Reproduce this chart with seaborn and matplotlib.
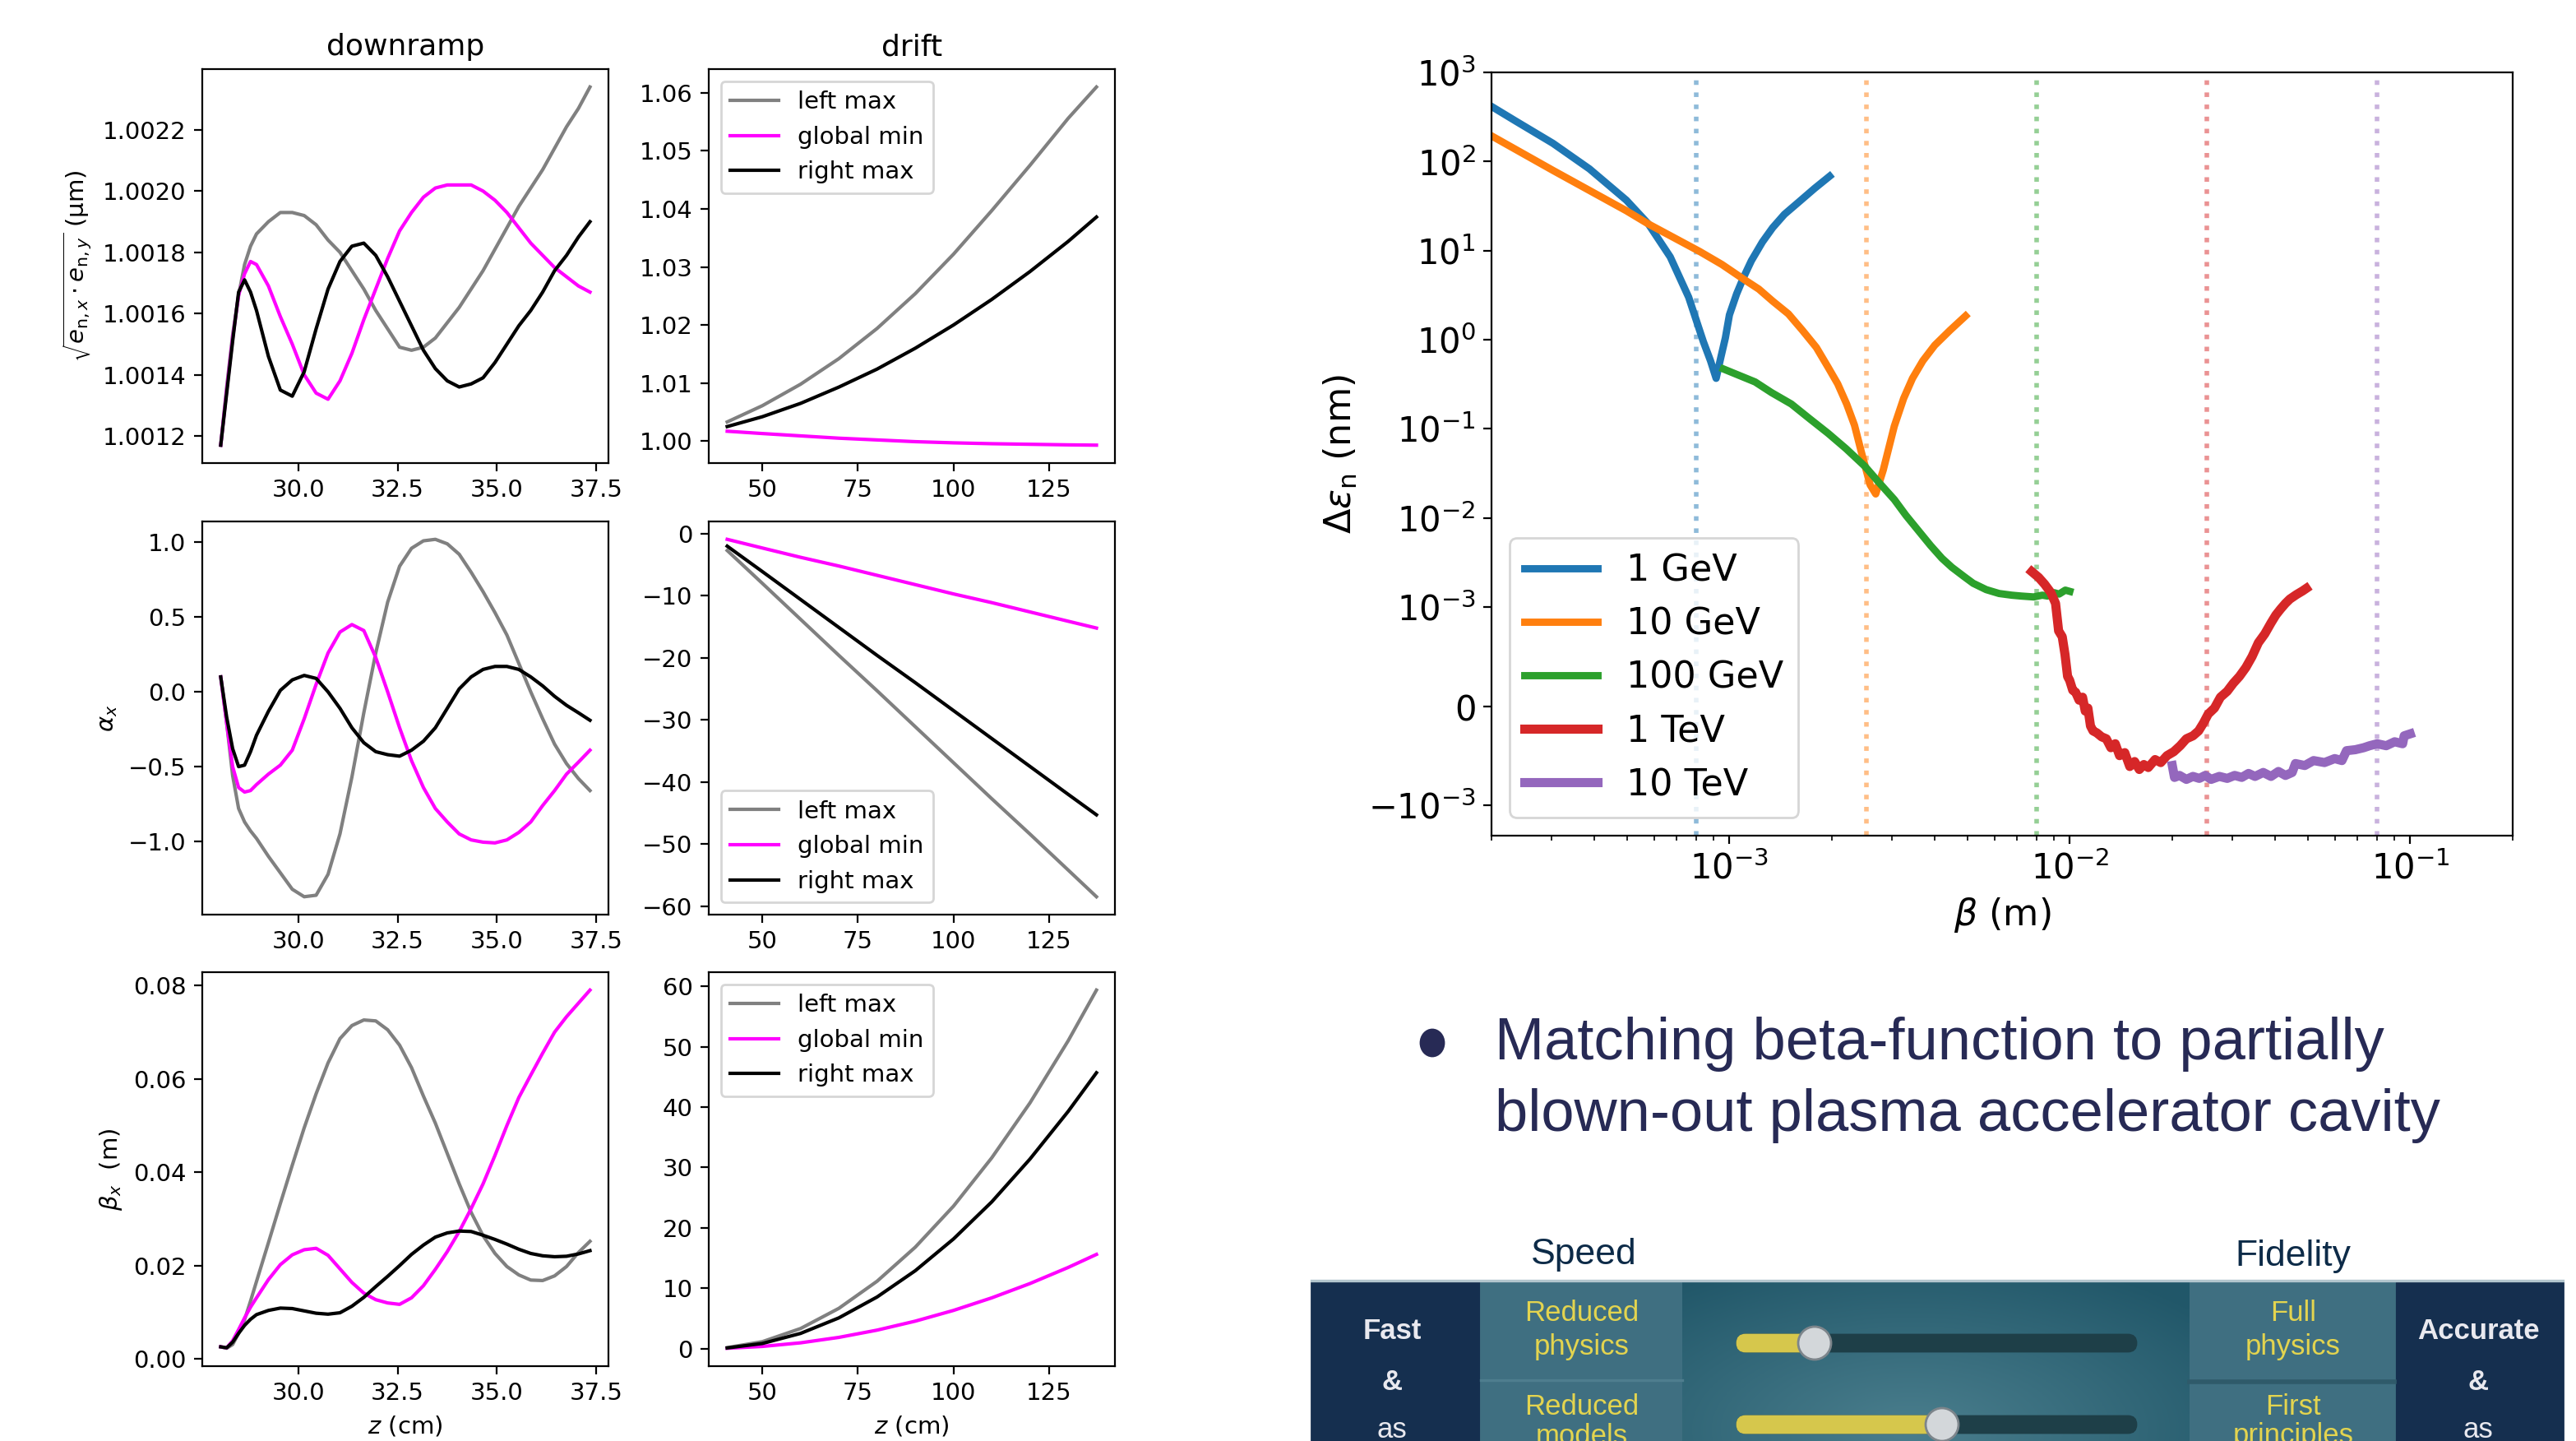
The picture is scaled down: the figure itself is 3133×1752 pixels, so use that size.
import numpy as np
import matplotlib
matplotlib.use("Agg")
import matplotlib.pyplot as plt
import matplotlib.patches as mpatches
import seaborn as sns

# ---------------- downramp (z in cm) ----------------
z_down = [28.05, 28.2, 28.35, 28.5, 28.65, 28.8, 28.95, 29.25, 29.55, 29.85, 30.15, 30.45,
          30.75, 31.05, 31.35, 31.65, 31.95, 32.25, 32.55, 32.85, 33.15, 33.45, 33.75, 34.05,
          34.35, 34.65, 34.95, 35.25, 35.55, 35.85, 36.15, 36.45, 36.75, 37.05, 37.34]

em_left = [1.00117, 1.00136, 1.00153, 1.00166, 1.00176, 1.00182, 1.00186, 1.00190, 1.00193,
           1.00193, 1.00192, 1.00189, 1.00184, 1.00180, 1.00174, 1.00168, 1.00161, 1.00155,
           1.00149, 1.00148, 1.00149, 1.00152, 1.00157, 1.00162, 1.00168, 1.00174, 1.00181,
           1.00188, 1.00195, 1.00201, 1.00207, 1.00214, 1.00221, 1.00227, 1.00234]
em_glob = [1.00117, 1.00135, 1.00152, 1.00166, 1.00173, 1.00177, 1.00176, 1.00169, 1.00159,
           1.00150, 1.00140, 1.00134, 1.00132, 1.00138, 1.00147, 1.00158, 1.00168, 1.00178,
           1.00187, 1.00193, 1.00198, 1.00201, 1.00202, 1.00202, 1.00202, 1.00200, 1.00197,
           1.00193, 1.00188, 1.00183, 1.00179, 1.00175, 1.00172, 1.00169, 1.00167]
em_right = [1.00117, 1.00134, 1.00151, 1.00167, 1.00171, 1.00167, 1.00161, 1.00146, 1.00135,
            1.00133, 1.00141, 1.00155, 1.00168, 1.00177, 1.00182, 1.00183, 1.00179, 1.00172,
            1.00164, 1.00156, 1.00148, 1.00142, 1.00138, 1.00136, 1.00137, 1.00139, 1.00144,
            1.00150, 1.00156, 1.00161, 1.00167, 1.00174, 1.00179, 1.00185, 1.00190]

al_left = [0.10, -0.21, -0.56, -0.78, -0.87, -0.93, -0.98, -1.10, -1.21, -1.32, -1.37, -1.36,
           -1.22, -0.95, -0.57, -0.14, 0.26, 0.60, 0.84, 0.96, 1.01, 1.02, 0.99, 0.92, 0.80,
           0.67, 0.53, 0.38, 0.19, 0.00, -0.18, -0.35, -0.48, -0.58, -0.66]
al_glob = [0.10, -0.21, -0.50, -0.64, -0.67, -0.66, -0.62, -0.55, -0.49, -0.39, -0.18, 0.05,
           0.26, 0.40, 0.45, 0.41, 0.23, 0.00, -0.24, -0.46, -0.64, -0.78, -0.87, -0.95, -0.99,
           -1.005, -1.01, -0.99, -0.94, -0.87, -0.76, -0.66, -0.55, -0.47, -0.39]
al_right = [0.10, -0.17, -0.38, -0.50, -0.49, -0.40, -0.29, -0.13, 0.01, 0.08, 0.11, 0.09,
            0.00, -0.11, -0.24, -0.34, -0.40, -0.42, -0.43, -0.39, -0.33, -0.24, -0.11, 0.02,
            0.10, 0.15, 0.17, 0.17, 0.15, 0.10, 0.04, -0.03, -0.09, -0.14, -0.19]

be_left = [0.0026, 0.0023, 0.0031, 0.0055, 0.0084, 0.0124, 0.0166, 0.0249, 0.0333, 0.0415,
           0.0495, 0.0568, 0.0634, 0.0686, 0.0714, 0.0726, 0.0724, 0.0705, 0.0672, 0.0624,
           0.0563, 0.0505, 0.0440, 0.0375, 0.0314, 0.0264, 0.0226, 0.0198, 0.0180, 0.0169,
           0.0168, 0.0178, 0.0198, 0.0228, 0.0252]
be_glob = [0.0026, 0.0024, 0.0039, 0.0063, 0.0088, 0.0111, 0.0131, 0.0170, 0.0202, 0.0223,
           0.0234, 0.0237, 0.0222, 0.0193, 0.0164, 0.0141, 0.0127, 0.0120, 0.0117, 0.0131,
           0.0157, 0.0192, 0.0230, 0.0273, 0.0322, 0.0375, 0.0436, 0.0500, 0.0560, 0.0608,
           0.0655, 0.0700, 0.0733, 0.0762, 0.0790]
be_right = [0.0026, 0.0024, 0.0036, 0.0055, 0.0072, 0.0085, 0.0095, 0.0104, 0.0109, 0.0108,
            0.0103, 0.0098, 0.0096, 0.0099, 0.0113, 0.0132, 0.0155, 0.0177, 0.0200, 0.0224,
            0.0244, 0.0261, 0.0270, 0.0274, 0.0273, 0.0265, 0.0256, 0.0246, 0.0235, 0.0226,
            0.0221, 0.0219, 0.0220, 0.0225, 0.0232]

# ---------------- drift (z in cm) ----------------
z_drift = [40.8, 50, 60, 70, 80, 90, 100, 110, 120, 130, 137.4]
dem_left = [1.0033, 1.0061, 1.0098, 1.0142, 1.0194, 1.0254, 1.0322, 1.0397, 1.0475, 1.0556, 1.0610]
dem_glob = [1.0017, 1.0013, 1.0009, 1.0005, 1.0002, 0.9999, 0.9997, 0.99955, 0.99945, 0.99935, 0.9993]
dem_right = [1.0025, 1.0042, 1.0065, 1.0093, 1.0124, 1.0160, 1.0200, 1.0244, 1.0292, 1.0344, 1.0386]
dal_left = [-2.7, -8.0, -13.8, -19.6, -25.3, -31.1, -36.9, -42.7, -48.4, -54.2, -58.5]
dal_glob = [-0.9, -2.3, -3.8, -5.2, -6.7, -8.2, -9.7, -11.1, -12.6, -14.1, -15.2]
dal_right = [-2.0, -6.1, -10.6, -15.1, -19.6, -24.0, -28.5, -33.0, -37.5, -42.0, -45.3]
dbe_left = [0.15, 1.14, 3.32, 6.66, 11.15, 16.80, 23.6, 31.6, 40.7, 51.0, 59.4]
dbe_glob = [0.05, 0.35, 0.95, 1.85, 3.05, 4.54, 6.32, 8.40, 10.77, 13.44, 15.6]
dbe_right = [0.10, 0.84, 2.51, 5.08, 8.54, 12.90, 18.16, 24.3, 31.4, 39.3, 45.7]

series_names = ["left max", "global min", "right max"]
series_colors = ["gray", "magenta", "black"]

# ---------------- emittance growth vs beta ----------------
beta_1gev = [2.0e-4, 2.36e-4, 3.03e-4, 3.88e-4, 4.98e-4, 5.78e-4, 6.70e-4, 7.59e-4, 8.38e-4,
             8.8e-4, 9.14e-4, 9.45e-4, 9.73e-4, 1.0e-3, 1.05e-3, 1.1e-3, 1.16e-3, 1.25e-3,
             1.34e-3, 1.45e-3, 1.60e-3, 1.78e-3, 1.97e-3]
de_1gev = [415, 283, 160, 82.6, 36.8, 19.9, 8.5, 3.0, 0.955, 0.58, 0.369, 0.65, 1.05, 1.9,
           3.27, 5.0, 7.7, 12.5, 18.1, 25.5, 35.2, 50, 68.4]
beta_10gev = [2.0e-4, 3.03e-4, 4.98e-4, 5.78e-4, 8.18e-4, 9.5e-4, 1.10e-3, 1.22e-3, 1.34e-3,
              1.49e-3, 1.64e-3, 1.80e-3, 1.95e-3, 2.08e-3, 2.21e-3, 2.33e-3, 2.44e-3, 2.59e-3,
              2.69e-3, 2.83e-3, 3.05e-3, 3.25e-3, 3.45e-3, 3.7e-3, 4.01e-3, 4.45e-3, 4.94e-3]
de_10gev = [194, 79.5, 28.0, 19.9, 9.77, 7.0, 4.79, 3.7, 2.71, 1.95, 1.27, 0.82, 0.49, 0.32,
            0.19, 0.11, 0.0553, 0.0236, 0.0186, 0.0344, 0.107, 0.22, 0.369, 0.58, 0.867, 1.28, 1.85]
beta_100gev = [9.6e-4, 1.19e-3, 1.33e-3, 1.52e-3, 1.72e-3, 1.95e-3, 2.2e-3, 2.5e-3, 2.75e-3,
               3.05e-3, 3.3e-3, 3.63e-3, 3.9e-3, 4.21e-3, 4.5e-3, 4.89e-3, 5.2e-3, 5.68e-3,
               6.2e-3, 6.75e-3, 7.2e-3, 7.83e-3, 8.3e-3, 8.6e-3, 9.0e-3, 9.3e-3, 9.7e-3, 1.0e-2]
de_100gev = [0.47, 0.336, 0.255, 0.19, 0.13, 0.089, 0.06, 0.038, 0.025, 0.0161, 0.0107,
             6.85e-3, 4.9e-3, 3.53e-3, 2.8e-3, 2.2e-3, 1.85e-3, 1.57e-3, 1.42e-3, 1.36e-3,
             1.33e-3, 1.30e-3, 1.36e-3, 1.33e-3, 1.45e-3, 1.40e-3, 1.55e-3, 1.50e-3]
beta_1tev = [7.73e-3, 8.1e-3, 8.43e-3, 8.8e-3, 9.08e-3, 9.27e-3, 9.5e-3, 9.68e-3, 9.85e-3,
             9.99e-3, 1.02e-2, 1.04e-2, 1.065e-2, 1.09e-2, 1.11e-2, 1.13e-2, 1.15e-2, 1.17e-2,
             1.2e-2, 1.24e-2, 1.28e-2, 1.32e-2, 1.36e-2, 1.40e-2, 1.45e-2, 1.50e-2, 1.55e-2,
             1.60e-2, 1.65e-2, 1.70e-2, 1.78e-2, 1.85e-2, 1.93e-2, 2.02e-2, 2.11e-2, 2.20e-2,
             2.30e-2, 2.39e-2, 2.47e-2, 2.55e-2, 2.66e-2, 2.77e-2, 2.90e-2, 3.02e-2, 3.15e-2,
             3.29e-2, 3.43e-2, 3.58e-2, 3.74e-2, 3.90e-2, 4.03e-2, 4.16e-2, 4.30e-2, 4.43e-2,
             4.63e-2, 4.83e-2, 4.95e-2]
de_1tev = [2.5e-3, 2.15e-3, 1.81e-3, 1.45e-3, 1.10e-3, 0.76e-3, 0.70e-3, 0.52e-3, 0.30e-3,
           0.26e-3, 0.16e-3, 0.14e-3, 0.06e-3, 0.09e-3, -0.05e-3, -0.02e-3, -0.20e-3, -0.25e-3,
           -0.27e-3, -0.31e-3, -0.33e-3, -0.42e-3, -0.38e-3, -0.50e-3, -0.47e-3, -0.61e-3,
           -0.56e-3, -0.64e-3, -0.59e-3, -0.62e-3, -0.54e-3, -0.57e-3, -0.50e-3, -0.46e-3,
           -0.40e-3, -0.33e-3, -0.30e-3, -0.25e-3, -0.17e-3, -0.08e-3, -0.02e-3, 0.09e-3,
           0.15e-3, 0.23e-3, 0.30e-3, 0.39e-3, 0.50e-3, 0.64e-3, 0.73e-3, 0.84e-3, 0.92e-3,
           0.98e-3, 1.10e-3, 1.23e-3, 1.38e-3, 1.52e-3, 1.62e-3]
beta_10tev = [2.0e-2, 2.03e-2, 2.1e-2, 2.2e-2, 2.3e-2, 2.4e-2, 2.5e-2, 2.6e-2, 2.75e-2, 2.9e-2,
              3.05e-2, 3.2e-2, 3.35e-2, 3.5e-2, 3.7e-2, 3.9e-2, 4.1e-2, 4.3e-2, 4.5e-2, 4.6e-2,
              4.9e-2, 5.2e-2, 5.6e-2, 6.0e-2, 6.3e-2, 6.5e-2, 6.9e-2, 7.3e-2, 7.6e-2, 8.0e-2,
              8.5e-2, 9.0e-2, 9.5e-2, 9.6e-2, 1.0e-1]
de_10tev = [-0.60e-3, -0.72e-3, -0.70e-3, -0.74e-3, -0.71e-3, -0.73e-3, -0.70e-3, -0.74e-3,
            -0.71e-3, -0.73e-3, -0.70e-3, -0.72e-3, -0.68e-3, -0.71e-3, -0.67e-3, -0.71e-3,
            -0.66e-3, -0.70e-3, -0.67e-3, -0.58e-3, -0.60e-3, -0.55e-3, -0.57e-3, -0.53e-3,
            -0.55e-3, -0.45e-3, -0.44e-3, -0.42e-3, -0.40e-3, -0.38e-3, -0.40e-3, -0.36e-3,
            -0.38e-3, -0.30e-3, -0.28e-3]
matched_beta = [8.0e-4, 2.53e-3, 8.0e-3, 2.53e-2, 8.0e-2]
energy_labels = ["1 GeV", "10 GeV", "100 GeV", "1 TeV", "10 TeV"]

W, H = 3133, 1752


def pos(l, t, r, b):
    return [l / W, 1 - b / H, (r - l) / W, (b - t) / H]


fig = plt.figure(figsize=(W / 200, H / 200), dpi=200)

cols = [(246, 740), (862, 1356)]
rows = [(84, 563), (634, 1112), (1182, 1661)]

panels = [
    [(z_down, [em_left, em_glob, em_right]), (z_drift, [dem_left, dem_glob, dem_right])],
    [(z_down, [al_left, al_glob, al_right]), (z_drift, [dal_left, dal_glob, dal_right])],
    [(z_down, [be_left, be_glob, be_right]), (z_drift, [dbe_left, dbe_glob, dbe_right])],
]
ylabels = [r'$\sqrt{e_{\mathrm{n},x}\cdot e_{\mathrm{n},y}}$ (µm)', r'$\alpha_x$', r'$\beta_x$  (m)']
legend_loc = ["upper left", "lower left", "upper left"]

for i, (t, b) in enumerate(rows):
    for j, (l, r) in enumerate(cols):
        ax = fig.add_axes(pos(l, t, r, b))
        zs, curves = panels[i][j]
        for ys, name, c in zip(curves, series_names, series_colors):
            sns.lineplot(x=zs, y=ys, ax=ax, color=c, label=name, lw=1.5,
                         estimator=None, sort=False)
        ax.tick_params(labelsize=10.5)
        ax.ticklabel_format(axis='y', useOffset=False)
        if j == 0:
            ax.set_xticks([30.0, 32.5, 35.0, 37.5])
            ax.legend().remove()
            ax.set_ylabel(ylabels[i], fontsize=10.5)
        else:
            ax.set_xticks([50, 75, 100, 125])
            ax.legend(loc=legend_loc[i], fontsize=10.5)
        if i == 0:
            ax.set_title("downramp" if j == 0 else "drift", fontsize=13)
            if j == 0:
                ax.set_yticks([1.0012, 1.0014, 1.0016, 1.0018, 1.0020, 1.0022])
        if i == 2:
            ax.set_xlabel(r'$z$ (cm)', fontsize=10.5)

# right chart
axr = fig.add_axes(pos(1814, 88, 3056, 1016))
axr.set_xscale('log')
axr.set_yscale('symlog', linthresh=1e-3)
pal = sns.color_palette("tab10")
for k, xb in enumerate(matched_beta):
    axr.axvline(xb, color=pal[k], ls=':', lw=2, alpha=0.5, zorder=1)
curves_r = [(beta_1gev, de_1gev), (beta_10gev, de_10gev), (beta_100gev, de_100gev),
            (beta_1tev, de_1tev), (beta_10tev, de_10tev)]
for k, (xs, ys) in enumerate(curves_r):
    sns.lineplot(x=xs, y=ys, ax=axr, color=pal[k], lw=3.2 if k < 3 else 4,
                 label=energy_labels[k], estimator=None, sort=False)
axr.set_xlim(2e-4, 0.2)
axr.set_ylim(-2.2e-3, 1e3)
axr.tick_params(labelsize=15)
axr.set_xlabel(r'$\beta$ (m)', fontsize=16)
axr.set_ylabel(r'$\Delta\varepsilon_{\mathrm{n}}$ (nm)', fontsize=16)
axr.legend(loc='lower left', fontsize=16)

# overlay: slide text and slider graphic (pixel coordinates)
ov = fig.add_axes([0, 0, 1, 1])
ov.set_xlim(0, W)
ov.set_ylim(H, 0)
ov.axis('off')
ov.patch.set_alpha(0)

navy_txt = '#272a55'
ov.add_patch(mpatches.Ellipse((1742, 1268), 28, 32, color=navy_txt))
ov.text(1818, 1288, "Matching beta-function to partially", fontsize=26,
        family=['Liberation Sans', 'DejaVu Sans'], color=navy_txt, va='baseline')
ov.text(1818, 1375, "blown-out plasma accelerator cavity", fontsize=26,
        family=['Liberation Sans', 'DejaVu Sans'], color=navy_txt, va='baseline')

narrow = ['Liberation Sans Narrow', 'Liberation Sans', 'DejaVu Sans']
ov.text(1926, 1525, "Speed", fontsize=16, family=narrow, color='#0d2b48', ha='center', va='center')
ov.text(2789, 1528, "Fidelity", fontsize=16, family=narrow, color='#0d2b48', ha='center', va='center')

top, bot = 1557, 1760
ov.add_patch(mpatches.Rectangle((1595, top), 204, bot - top, color='#152f4f', zorder=1))
ov.add_patch(mpatches.Rectangle((2912, top), 205, bot - top, color='#152f4f', zorder=1))
ov.add_patch(mpatches.Rectangle((1801, top), 245, bot - top, color='#3f6f81', zorder=1))
ov.add_patch(mpatches.Rectangle((2663, top), 249, bot - top, color='#3f6f81', zorder=1))
gy, gx = np.mgrid[0:1:60j, 0:1:120j]
glow = 1 - np.clip(np.hypot((gx - 0.45) * 1.3, (gy - 0.9) * 0.9), 0, 1)
ov.imshow(glow, extent=(2046, 2663, bot, top), cmap=sns.blend_palette(['#215769', '#4a7e8d'], as_cmap=True),
          aspect='auto', zorder=1, interpolation='bilinear')
ov.set_xlim(0, W)
ov.set_ylim(H, 0)
ov.plot([1595, 3117], [top, top], color='#b3c6ce', lw=1.2, zorder=2)
ov.plot([1801, 2046], [1678, 1678], color='#4e7d8e', lw=1.2, zorder=2)
ov.plot([2663, 2912], [1680, 1680], color='#2f5a6a', lw=2, zorder=2)

for yv, knob in [(1633, 2207), (1732, 2362)]:
    ov.add_patch(mpatches.FancyBboxPatch((2113, yv - 10), 485, 20, boxstyle='round,pad=0,rounding_size=10',
                                         color='#1e3f48', zorder=3))
    ov.add_patch(mpatches.FancyBboxPatch((2113, yv - 10), knob - 2113, 20,
                                         boxstyle='round,pad=0,rounding_size=10', color='#d6c74c', zorder=4))
    ov.add_patch(mpatches.Circle((knob, yv), 20, facecolor='#d3d7da', edgecolor='#7d858b', lw=1, zorder=5))

white = '#e9e9ef'
yellow = '#e3d44f'
for x0, words in [(1693, ["Fast", "&", "as"]), (3014, ["Accurate", "&", "as"])]:
    for yy, w_ in zip([1618, 1680, 1739], words):
        ov.text(x0, yy, w_, fontsize=12.5, family=narrow, color=white, ha='center', va='center',
                weight='bold' if w_ != 'as' else 'normal', zorder=6)
for x0, lines in [(1924, ["Reduced", "physics", "Reduced", "models"]),
                  (2789, ["Full", "physics", "First", "principles"])]:
    for yy, w_ in zip([1597, 1637, 1710, 1746], lines):
        ov.text(x0, yy, w_, fontsize=12.5, family=narrow, color=yellow, ha='center', va='center', zorder=6)

fig.savefig("out.png", dpi=200)
